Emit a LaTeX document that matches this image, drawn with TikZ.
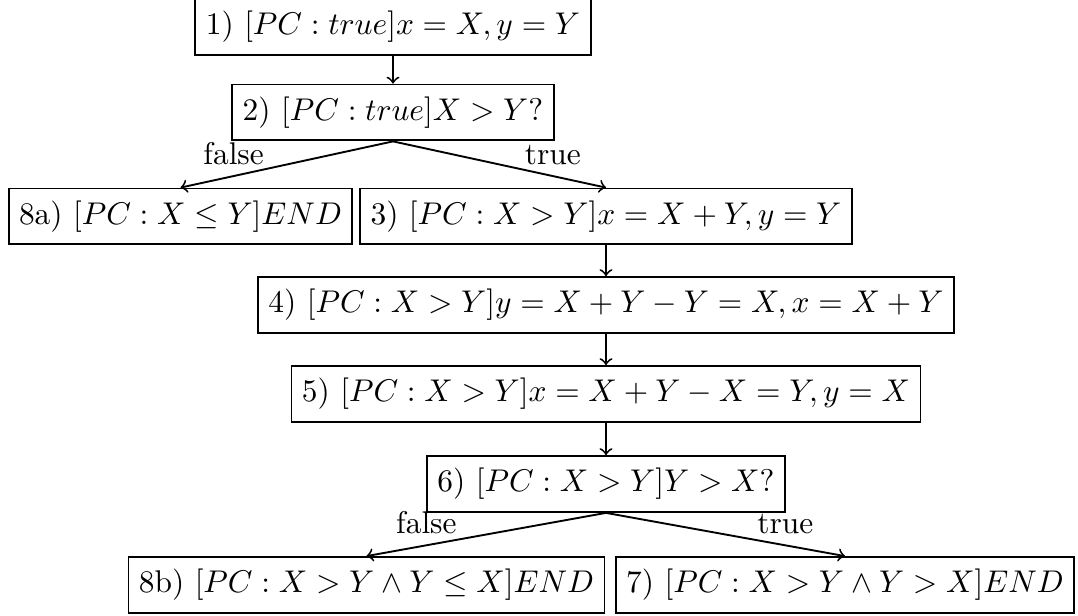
\documentclass[tikz,border=0pt]{standalone}
\usetikzlibrary{arrows}
\begin{document}
\begin{tikzpicture}[x=0.3185pt,y=-0.3185pt, semithick,
  stbox/.style={draw, inner xsep=3.33pt, inner ysep=3.9pt},
  flow/.style={->}]
\useasboundingbox (0,0) rectangle (1078,616);
\node[stbox] (n1) at (393,27) {1) $[PC : true]x = X, y = Y$};
\node[stbox] (n2) at (393,112.5) {2) $[PC : true]X > Y?$};
\node[stbox] (n8a) at (180.5,216.5) {8a) $[PC : X \leq Y]END$};
\node[stbox] (n3) at (606,216.5) {3) $[PC : X > Y]x = X + Y, y = Y$};
\node[stbox] (n4) at (606,305) {4) $[PC : X > Y]y = X + Y - Y = X, x = X + Y$};
\node[stbox] (n5) at (606,394) {5) $[PC : X > Y]x = X + Y - X = Y, y = X$};
\node[stbox] (n6) at (606,484) {6) $[PC : X > Y]Y > X?$};
\node[stbox] (n8b) at (366.5,585) {8b) $[PC : X > Y \wedge Y \leq X]END$};
\node[stbox] (n7) at (845,585) {7) $[PC : X > Y \wedge Y > X]END$};
\draw[flow] (n1) -- (n2);
\draw[flow] (n2.south) -- node[near end, above] {false} (n8a.north);
\draw[flow] (n2.south) -- node[near end, above] {true} (n3.north);
\draw[flow] (n3) -- (n4);
\draw[flow] (n4) -- (n5);
\draw[flow] (n5) -- (n6);
\draw[flow] (n6.south) -- node[near end, above] {false} (n8b.north);
\draw[flow] (n6.south) -- node[near end, above] {true} (n7.north);
\end{tikzpicture}
\end{document}
